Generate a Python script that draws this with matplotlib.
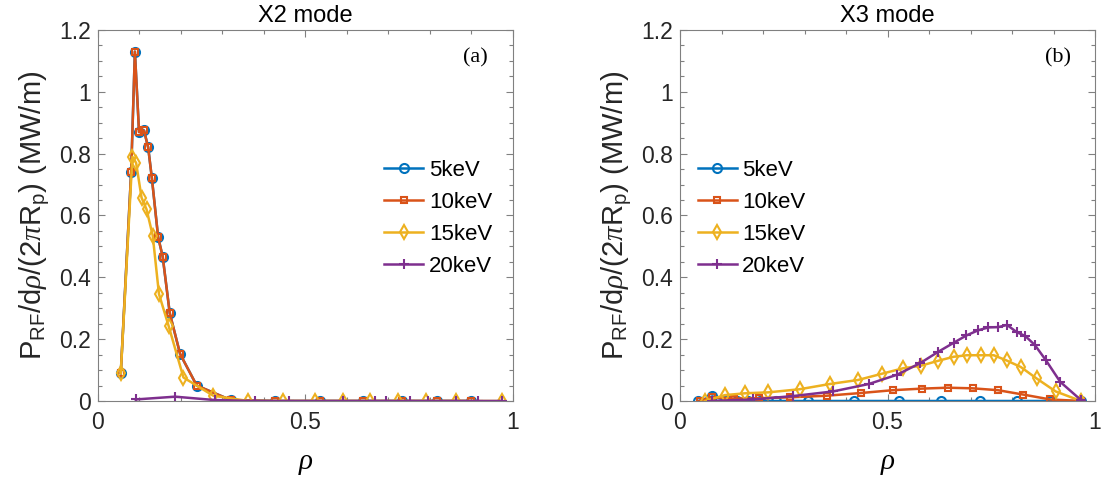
import numpy as np
import matplotlib
matplotlib.use('Agg')
import matplotlib.pyplot as plt
from matplotlib.ticker import MultipleLocator

plt.rcParams['font.family'] = ['Liberation Sans', 'DejaVu Sans']
plt.rcParams['mathtext.fontset'] = 'custom'
plt.rcParams['mathtext.rm'] = 'Liberation Sans'
plt.rcParams['mathtext.it'] = 'Liberation Serif:italic'
plt.rcParams['mathtext.sf'] = 'Liberation Sans'

# ---- X2 mode (a) ----
rho_a_low = [0.055, 0.080, 0.089, 0.099, 0.111, 0.121, 0.130, 0.145, 0.156, 0.173,
             0.198, 0.238, 0.320, 0.427, 0.535, 0.638, 0.732, 0.818, 0.900]
p_a_5 = [0.09, 0.74, 1.13, 0.87, 0.875, 0.82, 0.72, 0.53, 0.467, 0.284,
         0.152, 0.05, 0.003, 0, 0, 0, 0, 0, 0]
p_a_10 = [0.09, 0.74, 1.13, 0.87, 0.875, 0.82, 0.72, 0.53, 0.467, 0.284,
          0.152, 0.05, 0.003, 0, 0, 0, 0, 0, 0]
rho_a_15 = [0.055, 0.083, 0.092, 0.105, 0.117, 0.132, 0.147, 0.170, 0.206, 0.278,
            0.362, 0.445, 0.523, 0.591, 0.655, 0.722, 0.790, 0.862, 0.973]
p_a_15 = [0.09, 0.79, 0.77, 0.658, 0.62, 0.535, 0.346, 0.244, 0.076, 0.017,
          0, 0, 0, 0, 0, 0, 0, 0, 0]
rho_a_20 = [0.091, 0.186, 0.282, 0.378, 0.461, 0.591, 0.667, 0.695, 0.752, 0.796,
            0.863, 0.916, 0.973]
p_a_20 = [0.005, 0.014, 0.003, 0, 0, 0, 0, 0, 0, 0, 0, 0, 0]

# ---- X3 mode (b) ----
rho_b_5 = [0.044, 0.078, 0.110, 0.137, 0.165, 0.193, 0.231, 0.309, 0.419, 0.528,
           0.629, 0.723, 0.811, 0.893, 0.966]
p_b_5 = [0, 0.015, 0.003, 0, 0, 0, 0, 0, 0, 0, 0, 0, 0, 0, 0]
rho_b_10 = [0.047, 0.076, 0.130, 0.190, 0.265, 0.353, 0.437, 0.513, 0.582, 0.645,
            0.705, 0.766, 0.826, 0.892, 0.966]
p_b_10 = [0, 0.012, 0.008, 0.009, 0.012, 0.017, 0.026, 0.035, 0.040, 0.043,
          0.041, 0.035, 0.021, 0.005, 0]
rho_b_15 = [0.060, 0.108, 0.157, 0.213, 0.288, 0.361, 0.429, 0.486, 0.538, 0.580,
            0.622, 0.659, 0.691, 0.725, 0.756, 0.787, 0.821, 0.859, 0.905, 0.966]
p_b_15 = [0, 0.019, 0.025, 0.028, 0.038, 0.055, 0.068, 0.088, 0.106, 0.114,
          0.13, 0.143, 0.148, 0.148, 0.148, 0.131, 0.11, 0.073, 0.031, 0]
rho_b_20 = [0.076, 0.177, 0.273, 0.369, 0.455, 0.523, 0.578, 0.622, 0.659, 0.690,
            0.719, 0.743, 0.767, 0.788, 0.811, 0.832, 0.855, 0.882, 0.916, 0.966]
p_b_20 = [0, 0.005, 0.016, 0.031, 0.055, 0.085, 0.122, 0.159, 0.188, 0.212,
          0.229, 0.238, 0.239, 0.246, 0.223, 0.21, 0.181, 0.131, 0.062, 0.003]

labels = ['5keV', '10keV', '15keV', '20keV']
colors = ['#0072BD', '#D95319', '#EDB120', '#7E2F8E']
markers = ['o', 's', 'd', '+']
msizes = [6.5, 5, 7, 7]

fig = plt.figure(figsize=(11.03, 4.86), dpi=100)
ax1 = fig.add_axes([0.0888, 0.1749, 0.3763, 0.7634])
ax2 = fig.add_axes([0.6165, 0.1749, 0.3763, 0.7634])

panels = [
    (ax1, [(rho_a_low, p_a_5), (rho_a_low, p_a_10), (rho_a_15, p_a_15), (rho_a_20, p_a_20)],
     'X2 mode', '(a)', (0.69, 0.65)),
    (ax2, [(rho_b_5, p_b_5), (rho_b_10, p_b_10), (rho_b_15, p_b_15), (rho_b_20, p_b_20)],
     'X3 mode', '(b)', (0.043, 0.65)),
]

for ax, series, title, tag, legpos in panels:
    for (x, y), lab, c, m, ms in zip(series, labels, colors, markers, msizes):
        ax.plot(x, y, color=c, marker=m, label=lab, lw=1.8, ms=ms, mew=1.5,
                mfc='none')
    ax.set_xlim(0, 1)
    ax.set_ylim(0, 1.2)
    ax.set_xticks([0, 0.5, 1])
    ax.set_xticklabels(['0', '0.5', '1'])
    ax.set_yticks([0, 0.2, 0.4, 0.6, 0.8, 1.0, 1.2])
    ax.set_yticklabels(['0', '0.2', '0.4', '0.6', '0.8', '1', '1.2'])
    ax.xaxis.set_minor_locator(MultipleLocator(0.1))
    ax.yaxis.set_minor_locator(MultipleLocator(0.05))
    ax.tick_params(which='both', direction='in', top=True, right=True,
                   colors='#808080', labelcolor='#262626', labelsize=16.5, width=0.8)
    ax.tick_params(which='major', length=5)
    ax.tick_params(which='minor', length=3)
    ax.tick_params(axis='x', pad=7)
    ax.tick_params(axis='y', pad=5)
    for s in ax.spines.values():
        s.set_color('#808080')
        s.set_linewidth(0.8)
    ax.set_title(title, fontsize=17, pad=6, color='black')
    ax.set_xlabel(r'$\rho$', fontsize=21, labelpad=11)
    ax.set_ylabel(r'P$_{\rm RF}$/d$\rho$/(2$\pi$R$_{\rm p}$) (MW/m)', fontsize=21,
                  labelpad=5, color='#262626')
    ax.text(0.91, 1.11, tag, fontsize=16, family='Liberation Serif', ha='center',
            va='center')
    ax.legend(loc='upper left', bbox_to_anchor=legpos, frameon=False,
              fontsize=16, handlelength=1.75, handletextpad=0.25,
              labelspacing=0.5, borderaxespad=0, borderpad=0)

fig.savefig('out.png', dpi=100)
